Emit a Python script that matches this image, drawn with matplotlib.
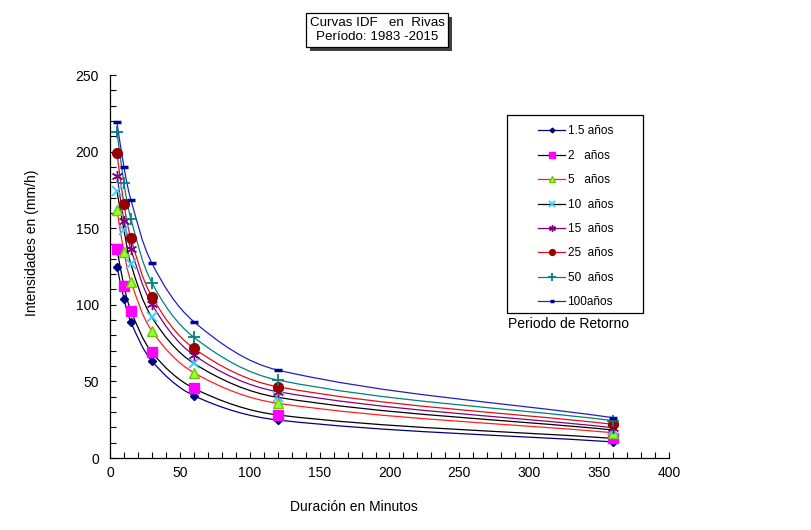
import numpy as np
import matplotlib
matplotlib.use("Agg")
import matplotlib.pyplot as plt
from matplotlib.path import Path
from matplotlib.patches import PathPatch, Rectangle
from matplotlib.lines import Line2D

plt.rcParams['font.family'] = ['Liberation Sans', 'DejaVu Sans']

durations = [5, 10, 15, 30, 60, 120, 360]
labels = ["1.5 años", "2   años", "5   años", "10  años", "15  años", "25  años", "50  años", "100años"]
i_1_5 = [124.9, 103.8, 88.6, 63.3, 40.7, 24.8, 10.5]
i_2 = [136.4, 112.3, 96.1, 69.0, 45.5, 28.1, 12.8]
i_5 = [161.9, 134.3, 115.1, 82.9, 55.7, 35.7, 16.5]
i_10 = [174.0, 148.8, 126.4, 91.8, 61.8, 39.6, 18.3]
i_15 = [184.3, 154.7, 136.2, 100.3, 67.2, 43.3, 19.8]
i_25 = [198.9, 165.6, 143.4, 105.3, 71.6, 46.5, 22.0]
i_50 = [213.0, 179.3, 156.0, 114.4, 78.8, 50.9, 24.4]
i_100 = [219.1, 189.8, 168.4, 127.1, 89.0, 57.4, 26.3]
series = [i_1_5, i_2, i_5, i_10, i_15, i_25, i_50, i_100]

line_colors = ['#000080', '#000000', '#FF2020', '#000000', '#800080', '#E01010', '#008080', '#2020C0']
styles = [
    dict(marker='D', ms=4, mfc='#000080', mec='#000080'),
    dict(marker='s', ms=7, mfc='#FF00FF', mec='#FF00FF'),
    dict(marker='^', ms=7, mfc='#99FF33', mec='#66CC00'),
    dict(marker='x', ms=7, mfc='#33CCFF', mec='#33CCFF', mew=1.3),
    dict(marker=(6, 2, 0), ms=8, mfc='#800080', mec='#800080', mew=1.0),
    dict(marker='o', ms=7, mfc='#990000', mec='#990000'),
    dict(marker='+', ms=9, mfc='#008080', mec='#008080', mew=1.3),
    dict(marker='_', ms=6, mfc='#000099', mec='#000099', mew=2.5),
]


def smooth_path(ax, xs, ys):
    # Bezier smoothing computed in display space (chord-length scaled tangents)
    pts = ax.transData.transform(np.column_stack([xs, ys]).astype(float))
    n = len(pts)
    tang = []
    for i in range(n):
        a = pts[i - 1] if i > 0 else pts[i]
        b = pts[i + 1] if i < n - 1 else pts[i]
        d = b - a
        tang.append(d / np.hypot(*d))
    verts = [pts[0]]
    codes = [Path.MOVETO]
    for i in range(n - 1):
        p1, p2 = pts[i], pts[i + 1]
        L = np.hypot(*(p2 - p1)) / 3.0
        verts += [p1 + tang[i] * L, p2 - tang[i + 1] * L, p2]
        codes += [Path.CURVE4] * 3
    inv = ax.transData.inverted()
    return Path(inv.transform(np.array(verts)), codes)


fig = plt.figure(figsize=(8.12, 5.30), dpi=100)
ax = fig.add_axes([110 / 812, 1 - 458 / 530, (669 - 110) / 812, (458 - 75) / 530])
ax.set_xlim(0, 400)
ax.set_ylim(0, 250)

handles = []
for vals, lc, st, lab in zip(series, line_colors, styles, labels):
    patch = PathPatch(smooth_path(ax, durations, vals), facecolor='none', edgecolor=lc, lw=0.9, zorder=2)
    ax.add_patch(patch)
    ax.plot(durations, vals, linestyle='none', zorder=3, **st)
    lst = dict(st)
    lst['ms'] = st['ms'] * 0.6
    handles.append(Line2D([0], [0], color=lc, lw=0.9, label=lab, **lst))

ax.set_xticks(np.arange(0, 401, 50))
ax.set_yticks(np.arange(0, 251, 50))
ax.set_xticks(np.arange(0, 401, 10), minor=True)
ax.set_yticks(np.arange(0, 251, 10), minor=True)
ax.tick_params(which='both', direction='in', length=4, width=0.8, labelsize=10)
ax.tick_params(axis='y', pad=8)
ax.tick_params(axis='x', pad=6)
for s in ['top', 'right']:
    ax.spines[s].set_visible(False)
for s in ['left', 'bottom']:
    ax.spines[s].set_linewidth(0.9)

fig.text(32 / 812, 1 - 243 / 530, "Intensidades en (mm/h)", rotation=90, ha='center', va='center', fontsize=10)
fig.text(354 / 812, 1 - 507 / 530, "Duración en Minutos", ha='center', va='center', fontsize=10)

# title box with shadow
title = fig.text(377 / 812, 1 - 30 / 530, "Curvas IDF   en  Rivas\nPeríodo: 1983 -2015", ha='center',
                 va='center', fontsize=9.6, linespacing=1.2,
                 bbox=dict(boxstyle='square,pad=0.28', fc='white', ec='black', lw=0.9), zorder=5)
fig.canvas.draw()
bb = title.get_bbox_patch().get_window_extent().transformed(fig.transFigure.inverted())
shadow = Rectangle((bb.x0 + 4 / 812, bb.y0 - 4 / 530), bb.width, bb.height,
                   transform=fig.transFigure, fc='#404040', ec='none', zorder=1)
fig.patches.append(shadow)

# legend box
box = Rectangle((507 / 812, 1 - 313 / 530), 136 / 812, 198 / 530,
                transform=fig.transFigure, fc='white', ec='black', lw=0.9, zorder=1)
fig.patches.append(box)
leg = fig.legend(handles=handles, loc='upper left', bbox_to_anchor=(538 / 812, 1 - 125.5 / 530),
                 frameon=False, fontsize=8.5, handlelength=2.3, labelspacing=1.05, borderpad=0,
                 handletextpad=0.2, borderaxespad=0)
fig.text(568 / 812, 1 - 324 / 530, "Periodo de Retorno", ha='center', va='center', fontsize=10)

fig.savefig("out.png", dpi=100)
